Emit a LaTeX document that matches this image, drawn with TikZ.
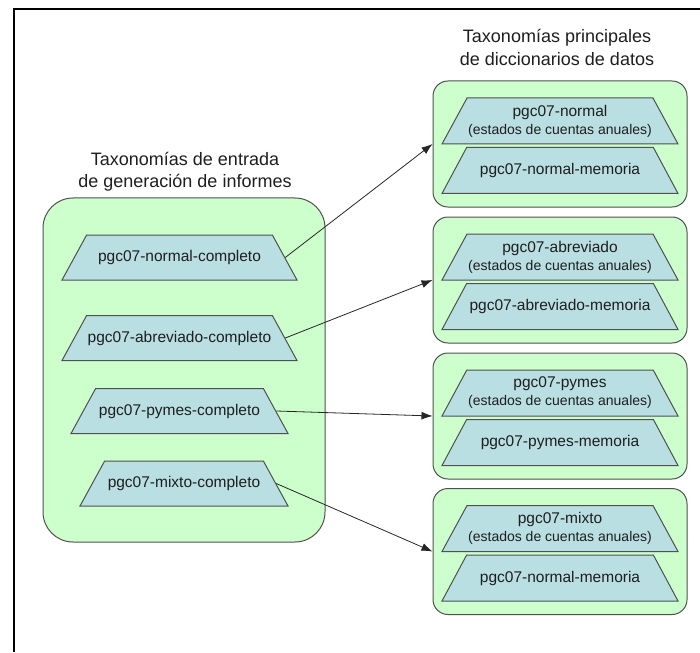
\documentclass[tikz,border=0pt]{standalone}
\usepackage{fontspec}
\setmainfont{Liberation Sans}
\usetikzlibrary{positioning,arrows.meta,shapes.geometric}

\definecolor{boxgreen}{HTML}{CCFFCC}
\definecolor{taxblue}{HTML}{B9DFE3}
\definecolor{edgegray}{HTML}{505050}
\definecolor{txtgray}{HTML}{1E1E1E}

\tikzset{
  group/.style={draw=edgegray, fill=boxgreen, line width=1pt, rounded corners=15pt, inner sep=0pt},
  taxo/.style={trapezium, trapezium left angle=61, trapezium right angle=61,
    trapezium stretches body, draw=edgegray, fill=taxblue, line width=1pt,
    minimum height=45pt, inner xsep=0pt, inner ysep=15pt, align=center, text=txtgray,
    font=\fontsize{15.5}{18}\selectfont},
  taxotwo/.style={taxo, inner ysep=6.5pt, minimum width=236pt, minimum height=46pt},
  feed/.style={-{Latex[length=11pt,width=8pt]}, draw=black!85, line width=0.8pt},
  heading/.style={align=center, text=txtgray, font=\fontsize{18}{22.5}\selectfont}
}
\newcommand{\subnote}[1]{{\fontsize{14}{17}\selectfont #1}}

\begin{document}
\begin{tikzpicture}[x=1pt,y=-1pt]
  \useasboundingbox (0,0) rectangle (700,652);
  \draw[line width=2.3pt] (700,9) -- (14,9) -- (14,652);

  % entrada de informes
  \node[heading] (entrytitle) at (185,171.5) {Taxonomías de entrada\\de generación de informes};
  \node[group, rounded corners=30pt, minimum width=282pt, minimum height=344pt] (entry) at (184,370) {};
  \node[taxo, minimum width=235pt] (normalc) at (179.5,257.5) {pgc07-normal-completo};
  \node[taxo, minimum width=235pt] (abrevc) at (179.5,338) {pgc07-abreviado-completo};
  \node[taxo, minimum width=217pt] (pymesc) at (179.5,411) {pgc07-pymes-completo};
  \node[taxo, minimum width=208pt] (mixtoc) at (184,483.5) {pgc07-mixto-completo};

  % diccionarios de datos
  \node[heading] (dicttitle) at (557,47.5) {Taxonomías principales\\de diccionarios de datos};
  \node[group, minimum width=254pt, minimum height=126pt] (normalg) at (560,144) {};
  \node[taxotwo] (normalea) at (560,121) {pgc07-normal\\\subnote{(estados de cuentas anuales)}};
  \node[taxo, minimum width=236pt, minimum height=46pt] (normalmem) at (560,170.5) {pgc07-normal-memoria};

  \node[group, minimum width=254pt, minimum height=126pt] (abrevg) at (560,280) {};
  \node[taxotwo] (abrevea) at (560,257) {pgc07-abreviado\\\subnote{(estados de cuentas anuales)}};
  \node[taxo, minimum width=236pt, minimum height=46pt] (abrevmem) at (560,306.5) {pgc07-abreviado-memoria};

  \node[group, minimum width=254pt, minimum height=126pt] (pymesg) at (560,416) {};
  \node[taxotwo] (pymesea) at (560,393) {pgc07-pymes\\\subnote{(estados de cuentas anuales)}};
  \node[taxo, minimum width=236pt, minimum height=46pt] (pymesmem) at (560,442.5) {pgc07-pymes-memoria};

  \node[group, minimum width=254pt, minimum height=126pt] (mixtog) at (560,551.5) {};
  \node[taxotwo] (mixtoea) at (560,528.5) {pgc07-mixto\\\subnote{(estados de cuentas anuales)}};
  \node[taxo, minimum width=236pt, minimum height=46pt] (mixtomem) at (560,578) {pgc07-normal-memoria};

  % conexiones
  \draw[feed] (normalc.east) -- (normalg.west);
  \draw[feed] (abrevc.east) -- (abrevg.west);
  \draw[feed] (pymesc.east) -- (pymesg.west);
  \draw[feed] (mixtoc.east) -- (mixtog.west);
\end{tikzpicture}
\end{document}
